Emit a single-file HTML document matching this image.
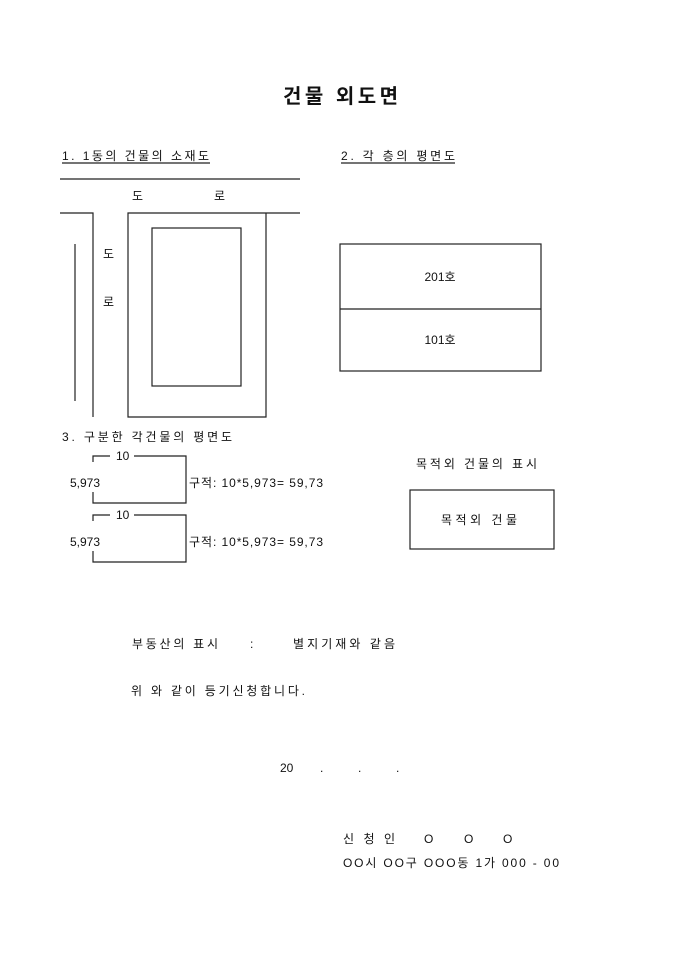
<!DOCTYPE html>
<html><head><meta charset="utf-8"><style>
html,body{margin:0;padding:0;background:#fff}
svg text{font-family:"Liberation Sans","Noto Sans CJK KR","NanumGothic",sans-serif;font-size:12px;fill:#111}
</style></head><body>
<svg width="680" height="962" viewBox="0 0 680 962" xmlns="http://www.w3.org/2000/svg">
<g stroke="#222" stroke-width="1.2" fill="none">
<line x1="60" y1="179" x2="300" y2="179"/>
<polyline points="60,213 93,213 93,417"/>
<polyline points="300,213 266,213 266,417 128,417 128,213 266,213"/>
<rect x="152" y="228" width="89" height="158"/>
<line x1="75" y1="244" x2="75" y2="401"/>
<rect x="340" y="244" width="201" height="127"/>
<line x1="340" y1="309" x2="541" y2="309"/>
<rect x="410" y="490" width="144" height="59"/>
<polyline points="93,462 93,456 110,456"/><polyline points="134,456 186,456 186,503 93,503 93,492"/>
<polyline points="93,521 93,515 110,515"/><polyline points="134,515 186,515 186,562 93,562 93,551"/>
<line x1="62" y1="163" x2="210" y2="163"/>
<line x1="341" y1="163" x2="455" y2="163"/>
</g>
<text x="283" y="103" style="font-size:20px;font-weight:bold" textLength="115" lengthAdjust="spacing">건물 외도면</text>
<text x="62" y="160" textLength="147" lengthAdjust="spacing">1. 1동의 건물의 소재도</text>
<text x="341" y="160" textLength="114" lengthAdjust="spacing">2. 각 층의 평면도</text>
<text x="132" y="200">도</text><text x="214" y="200">로</text>
<text x="103" y="258">도</text><text x="103" y="306">로</text>
<text x="440" y="281" text-anchor="middle">201호</text>
<text x="440" y="344" text-anchor="middle">101호</text>
<text x="62" y="441" textLength="170" lengthAdjust="spacing">3. 구분한 각건물의 평면도</text>
<text x="116" y="460">10</text><text x="70" y="487">5,973</text><text x="189" y="487" textLength="134" lengthAdjust="spacing">구적: 10*5,973=  59,73</text>
<text x="116" y="519">10</text><text x="70" y="546">5,973</text><text x="189" y="546" textLength="134" lengthAdjust="spacing">구적: 10*5,973=  59,73</text>
<text x="416" y="468" textLength="121" lengthAdjust="spacing">목적외 건물의 표시</text>
<text x="441" y="524" textLength="76" lengthAdjust="spacing">목적외 건물</text>
<text x="132" y="648" textLength="86" lengthAdjust="spacing">부동산의 표시</text><text x="250" y="648">:</text><text x="293" y="648" textLength="102" lengthAdjust="spacing">별지기재와 같음</text>
<text x="131" y="695" textLength="174" lengthAdjust="spacing">위 와 같이 등기신청합니다.</text>
<text x="280" y="772">20</text><text x="320" y="772">.</text><text x="358" y="772">.</text><text x="396" y="772">.</text>
<text x="343" y="843" textLength="52" lengthAdjust="spacing">신 청 인</text><text x="424" y="843">O</text><text x="464" y="843">O</text><text x="503" y="843">O</text>
<text x="343" y="867" textLength="216" lengthAdjust="spacing">OO시 OO구 OOO동 1가 000 - 00</text>
</svg>
</body></html>
